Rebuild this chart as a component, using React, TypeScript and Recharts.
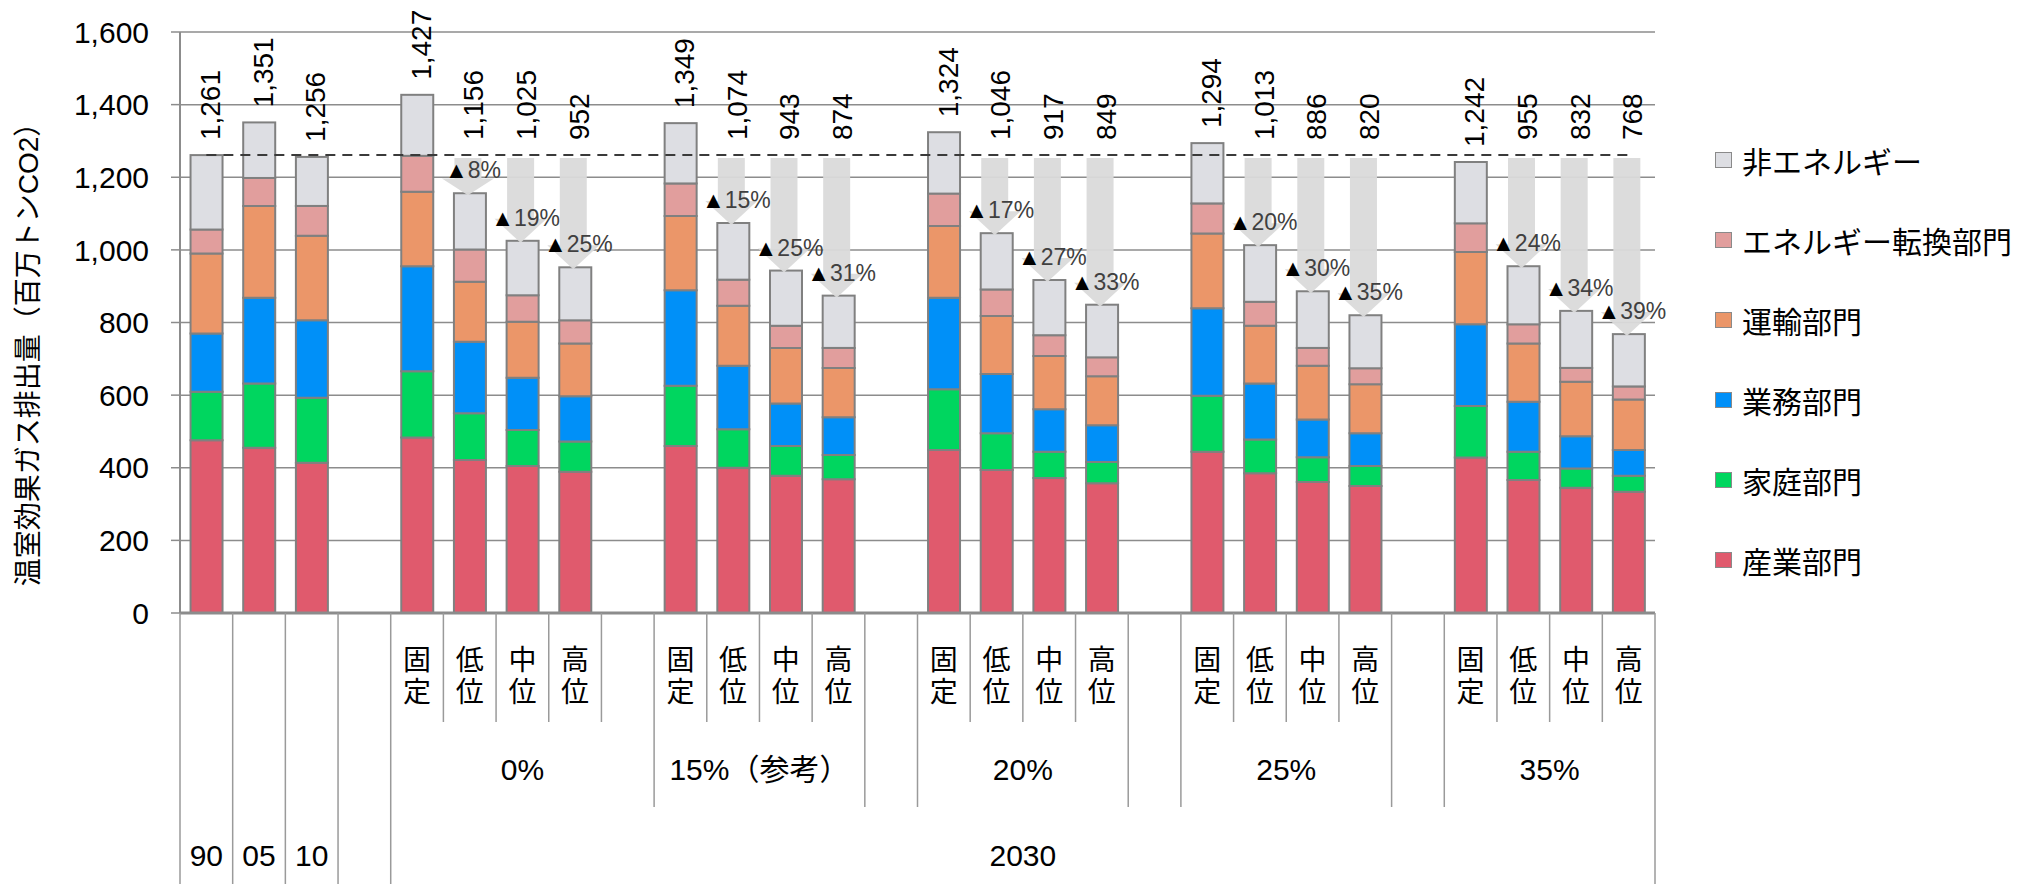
import React from 'react';
import {
  BarChart,
  Bar,
  XAxis,
  YAxis,
  CartesianGrid,
  ReferenceLine,
  LabelList,
  Legend,
  Label,
} from 'recharts';

const FONT = "'Liberation Sans', 'Noto Sans CJK JP', sans-serif";

// categories (one per column, gaps included)
const categoryKeys = [
  '90', '05', '10', 'gapA',
  '0%固定', '0%低位', '0%中位', '0%高位', 'gap0',
  '15%固定', '15%低位', '15%中位', '15%高位', 'gap15',
  '20%固定', '20%低位', '20%中位', '20%高位', 'gap20',
  '25%固定', '25%低位', '25%中位', '25%高位', 'gap25',
  '35%固定', '35%低位', '35%中位', '35%高位',
];
const subLabels = [
  '', '', '', '',
  '固定', '低位', '中位', '高位', '',
  '固定', '低位', '中位', '高位', '',
  '固定', '低位', '中位', '高位', '',
  '固定', '低位', '中位', '高位', '',
  '固定', '低位', '中位', '高位',
];
const groups = [
  { label: '0%', start: 4, count: 5 },
  { label: '15%（参考）', start: 9, count: 4 },
  { label: '', start: 13, count: 1 },
  { label: '20%', start: 14, count: 4 },
  { label: '', start: 18, count: 1 },
  { label: '25%', start: 19, count: 4 },
  { label: '', start: 23, count: 1 },
  { label: '35%', start: 24, count: 4 },
];
const eras = [
  { label: '90', start: 0, count: 1 },
  { label: '05', start: 1, count: 1 },
  { label: '10', start: 2, count: 1 },
  { label: '', start: 3, count: 1 },
  { label: '2030', start: 4, count: 24 },
];

// series values (百万トンCO2)
const industry = [476, 455, 414, null, 483, 421, 405, 389, null, 460, 400, 378, 368, null, 449, 394, 372, 357, null, 444, 385, 361, 350, null, 428, 366, 345, 334];
const household = [133, 177, 179, null, 183, 129, 99, 83, null, 166, 106, 82, 67, null, 167, 101, 72, 59, null, 154, 93, 68, 55, null, 142, 78, 53, 44];
const commercial = [161, 236, 213, null, 289, 197, 144, 125, null, 263, 175, 117, 104, null, 252, 163, 117, 101, null, 241, 154, 104, 90, null, 225, 138, 89, 71];
const transport = [220, 253, 233, null, 205, 165, 154, 145, null, 204, 165, 153, 136, null, 198, 160, 147, 135, null, 206, 159, 148, 135, null, 199, 160, 150, 139];
const conversion = [66, 77, 82, null, 99, 89, 73, 64, null, 90, 72, 61, 55, null, 89, 73, 57, 52, null, 83, 66, 49, 44, null, 79, 53, 38, 36];
const nonEnergy = [205, 153, 135, null, 168, 155, 150, 146, null, 166, 156, 152, 144, null, 169, 155, 152, 145, null, 166, 156, 156, 146, null, 169, 160, 157, 144];

const totals = [1261, 1351, 1256, null, 1427, 1156, 1025, 952, null, 1349, 1074, 943, 874, null, 1324, 1046, 917, 849, null, 1294, 1013, 886, 820, null, 1242, 955, 832, 768];
const reductions = [null, null, null, null, null, '8%', '19%', '25%', null, null, '15%', '25%', '31%', null, null, '17%', '27%', '33%', null, null, '20%', '30%', '35%', null, null, '24%', '34%', '39%'];
const BASE_1990 = 1261;

const yTicks = [0, 200, 400, 600, 800, 1000, 1200, 1400, 1600];

const SERIES = [
  { key: 'industry', name: '産業部門', color: '#E05A6D', values: industry },
  { key: 'household', name: '家庭部門', color: '#00D65F', values: household },
  { key: 'commercial', name: '業務部門', color: '#0090F8', values: commercial },
  { key: 'transport', name: '運輸部門', color: '#EB9669', values: transport },
  { key: 'conversion', name: 'エネルギー転換部門', color: '#E19E9D', values: conversion },
  { key: 'nonEnergy', name: '非エネルギー', color: '#DDDEE3', values: nonEnergy },
];

const data = categoryKeys.map((key, i) => {
  const row: Record<string, any> = { key, idx: i };
  SERIES.forEach((s) => {
    row[s.key] = s.values[i];
  });
  return row;
});

const N = categoryKeys.length;
const CHART_W = 2020;
const CHART_H = 884;
const YAXIS_W = 180;
const XAXIS_H = 271;
const MARGIN = { top: 32, right: 365, bottom: 0, left: 0 };
const STEP = (CHART_W - MARGIN.left - MARGIN.right - YAXIS_W) / N;

const GRID = '#8c8c8c';
const DIVIDER = '#9a9a9a';
const EDGE = '#808080';

function boundaryDepth(i: number) {
  if (i >= N || eras.some((e) => e.start === i)) return XAXIS_H;
  if (groups.some((g) => g.start === i)) return 194;
  return 109;
}

function CategoryTick(props: any) {
  const { x, y, payload } = props;
  const i = payload?.index ?? props.index;
  const left = x - STEP / 2;
  const sub = subLabels[i];
  const g = groups.find((gr) => gr.start === i);
  const e = eras.find((er) => er.start === i);
  return (
    <g>
      <line x1={left} x2={left} y1={y} y2={y + boundaryDepth(i)} stroke={DIVIDER} strokeWidth={1.5} />
      {i === N - 1 && (
        <line x1={x + STEP / 2} x2={x + STEP / 2} y1={y} y2={y + XAXIS_H} stroke={DIVIDER} strokeWidth={1.5} />
      )}
      {sub && (
        <g fontSize={28} fontFamily={FONT} fill="#000" textAnchor="middle">
          <text x={x} y={y + 57}>{sub[0]}</text>
          <text x={x} y={y + 89}>{sub[1]}</text>
        </g>
      )}
      {g && g.label && (
        <text x={left + (g.count * STEP) / 2} y={y + 167} textAnchor="middle" fontSize={30} fontFamily={FONT} fill="#000">
          {g.label}
        </text>
      )}
      {e && e.label && (
        <text x={left + (e.count * STEP) / 2} y={y + 253} textAnchor="middle" fontSize={30} fontFamily={FONT} fill="#000">
          {e.label}
        </text>
      )}
    </g>
  );
}

// top segment also carries the reduction arrow from the 1990 level
function TopSegment(props: any) {
  const { x, y, width, height, fill, payload } = props;
  const i = payload?.idx;
  const rect = <rect x={x} y={y} width={width} height={height} fill={fill} stroke={EDGE} strokeWidth={2} />;
  if (i == null || !reductions[i] || !height) return rect;
  const k = height / (nonEnergy[i] as number);
  const yBase = y + ((totals[i] as number) - BASE_1990) * k;
  const cx = x + width / 2 - 2;
  const yStart = yBase + 3;
  const yTip = y + 2;
  const headH = Math.min(24, (yTip - yStart) * 0.45);
  const yNeck = yTip - headH;
  const pts = [
    [cx - 13.5, yStart],
    [cx + 13.5, yStart],
    [cx + 13.5, yNeck],
    [cx + 26, yNeck],
    [cx, yTip],
    [cx - 26, yNeck],
    [cx - 13.5, yNeck],
  ]
    .map((p) => p.join(','))
    .join(' ');
  return (
    <g>
      {rect}
      <polygon points={pts} fill="#dadada" opacity={0.95} />
    </g>
  );
}

function TopLabels(props: any) {
  const i = props.value;
  const vb = props.viewBox ?? props;
  const { x, y, width, height } = vb;
  const total = totals[i];
  if (total == null || x == null) return null;
  const k = height / (nonEnergy[i] as number);
  const yBase = y + (total - BASE_1990) * k;
  const cx = x + width / 2;
  const pct = reductions[i];
  const ay = (pct ? yBase : y) - 15;
  const lx = cx + 4;
  return (
    <g fontFamily={FONT}>
      <text
        x={lx}
        y={ay}
        transform={`rotate(-90 ${lx} ${ay})`}
        textAnchor="start"
        dominantBaseline="central"
        fontSize={28}
        fill="#000"
      >
        {total.toLocaleString('en-US')}
      </text>
      {pct && (
        <text x={cx + 3} y={y - 15} textAnchor="middle" fontSize={23}>
          <tspan fill="#000">▲</tspan>
          <tspan fill="#404040">{pct}</tspan>
        </text>
      )}
    </g>
  );
}

function YTitle(props: any) {
  const vb = props.viewBox;
  const cx = vb.x + 28;
  const cy = vb.y + vb.height / 2 + 25;
  return (
    <text
      x={cx}
      y={cy}
      transform={`rotate(-90 ${cx} ${cy})`}
      textAnchor="middle"
      dominantBaseline="central"
      fontSize={28}
      fontFamily={FONT}
      fill="#000"
    >
      温室効果ガス排出量（百万トンCO2）
    </text>
  );
}

function LegendContent() {
  const items = [...SERIES].reverse();
  return (
    <div style={{ fontFamily: FONT, fontSize: 30, color: '#000' }}>
      {items.map((s) => (
        <div key={s.key} style={{ display: 'flex', alignItems: 'center', height: 80, whiteSpace: 'nowrap' }}>
          <span
            style={{
              display: 'inline-block',
              width: 17,
              height: 16,
              background: s.color,
              border: '1.5px solid #8a8a8a',
              boxSizing: 'border-box',
              marginRight: 10,
            }}
          />
          <span>{s.name}</span>
        </div>
      ))}
    </div>
  );
}

export default function App() {
  return (
    <div style={{ position: 'absolute', left: 0, top: 0, background: '#fff' }}>
      <BarChart
        width={CHART_W}
        height={CHART_H}
        data={data}
        margin={MARGIN}
        barCategoryGap="20%"
        style={{ fontFamily: FONT }}
      >
        <CartesianGrid vertical={false} stroke={GRID} strokeWidth={1.5} />
        <XAxis
          dataKey="key"
          interval={0}
          height={XAXIS_H}
          tickLine={false}
          tickSize={0}
          tickMargin={0}
          axisLine={{ stroke: GRID, strokeWidth: 3 }}
          tick={<CategoryTick />}
        />
        <YAxis
          domain={[0, 1600]}
          ticks={yTicks}
          interval={0}
          width={YAXIS_W}
          tickFormatter={(v: number) => v.toLocaleString('en-US')}
          tick={{ fontSize: 30, fill: '#000', fontFamily: FONT }}
          tickSize={9}
          tickMargin={22}
          tickLine={{ stroke: GRID, strokeWidth: 1.5 }}
          axisLine={{ stroke: GRID, strokeWidth: 2 }}
          label={<Label content={YTitle} />}
        />
        {SERIES.map((s, j) => (
          <Bar
            key={s.key}
            dataKey={s.key}
            name={s.name}
            stackId="total"
            fill={s.color}
            stroke={EDGE}
            strokeWidth={2}
            isAnimationActive={false}
            shape={j === SERIES.length - 1 ? TopSegment : undefined}
          >
            {j === SERIES.length - 1 && <LabelList dataKey="idx" content={TopLabels} />}
          </Bar>
        ))}
        <ReferenceLine
          segment={[
            { x: categoryKeys[0], y: BASE_1990 },
            { x: categoryKeys[N - 1], y: BASE_1990 },
          ]}
          stroke="#3a3a3a"
          strokeWidth={2}
          strokeDasharray="10 7"
        />
        <Legend
          content={<LegendContent />}
          layout="vertical"
          align="center"
          verticalAlign="middle"
          wrapperStyle={{ left: 1715, top: 120, width: 305 }}
        />
      </BarChart>
    </div>
  );
}
